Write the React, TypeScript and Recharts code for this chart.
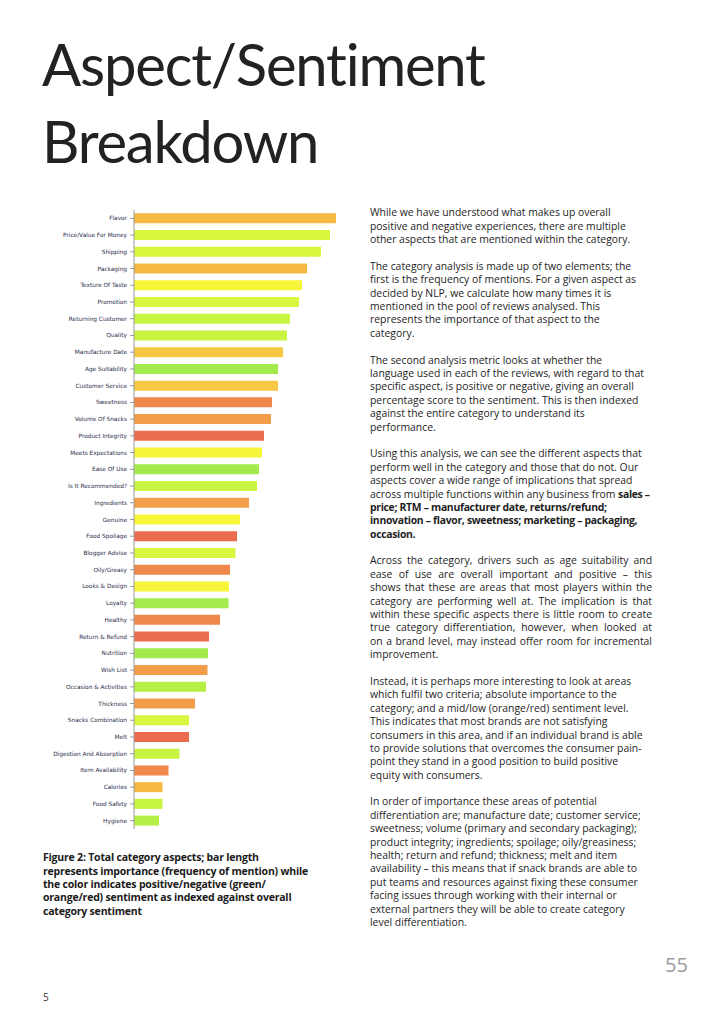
import React from "react";
import { BarChart, Bar, XAxis, YAxis, Cell } from "recharts";

// aspects, ordered by frequency of mention
const aspects = [
  "Flavor",
  "Price/Value For Money",
  "Shipping",
  "Packaging",
  "Texture Of Taste",
  "Promotion",
  "Returning Customer",
  "Quality",
  "Manufacture Date",
  "Age Suitability",
  "Customer Service",
  "Sweetness",
  "Volume Of Snacks",
  "Product Integrity",
  "Meets Expectations",
  "Ease Of Use",
  "Is It Recommended?",
  "Ingredients",
  "Genuine",
  "Food Spoilage",
  "Blogger Advise",
  "Oily/Greasy",
  "Looks & Design",
  "Loyalty",
  "Healthy",
  "Return & Refund",
  "Nutrition",
  "Wish List",
  "Occasion & Activities",
  "Thickness",
  "Snacks Combination",
  "Melt",
  "Digestion And Absorption",
  "Item Availability",
  "Calories",
  "Food Safety",
  "Hygiene",
];

// importance (relative frequency of mention)
const importance = [
  202, 196, 187, 173, 168, 165, 156, 153, 149, 144, 144, 138, 137, 130, 128,
  125, 123, 115, 106, 103, 101.5, 96, 95, 94.5, 86, 75, 74, 73.5, 72, 61, 55,
  55, 45.5, 34.5, 28.5, 28.5, 25,
];

// sentiment band, indexed against category sentiment
const sentiment = [
  "amber", "yellowGreen", "yellowGreen", "amber", "yellow", "yellowGreen",
  "chartreuse", "chartreuse", "gold", "green", "gold", "darkOrange", "orange",
  "red", "yellow", "green", "chartreuse", "orange", "yellow", "red",
  "yellowGreen", "darkOrange", "yellow", "green", "darkOrange", "red", "green",
  "orange", "lime", "orange", "yellowGreen", "red", "chartreuse", "darkOrange",
  "amber", "chartreuse", "lime",
];

const palette: Record<string, string> = {
  green: "#a3eb4c",
  lime: "#b6ef46",
  chartreuse: "#c8f442",
  yellowGreen: "#daf63e",
  yellow: "#f6f53a",
  gold: "#f6c843",
  amber: "#f5b943",
  orange: "#f29d4a",
  darkOrange: "#f0884b",
  red: "#ec6c50",
};

const data = aspects.map((name, i) => ({
  name,
  value: importance[i],
  tone: sentiment[i],
}));

type Seg = { t: string; b?: boolean };
type Line = Seg[] | string | null;

const bodyLines: Line[] = [
  "While we have understood what makes up overall",
  "positive and negative experiences, there are multiple",
  "other aspects that are mentioned within the category.",
  null,
  "The category analysis is made up of two elements; the",
  "first is the frequency of mentions. For a given aspect as",
  "decided by NLP, we calculate how many times it is",
  "mentioned in the pool of reviews analysed. This",
  "represents the importance of that aspect to the",
  "category.",
  null,
  "The second analysis metric looks at whether the",
  "language used in each of the reviews, with regard to that",
  "specific aspect, is positive or negative, giving an overall",
  "percentage score to the sentiment. This is then indexed",
  "against the entire category to understand its",
  "performance.",
  null,
  "Using this analysis, we can see the different aspects that",
  "perform well in the category and those that do not. Our",
  "aspects cover a wide range of implications that spread",
  [
    { t: "across multiple functions within any business from " },
    { t: "sales –", b: true },
  ],
  [{ t: "price; RTM – manufacturer date, returns/refund;", b: true }],
  [{ t: "innovation – flavor, sweetness; marketing – packaging,", b: true }],
  [{ t: "occasion.", b: true }],
  null,
];

const justifiedLines = [
  "Across the category, drivers such as age suitability and",
  "ease of use are overall important and positive – this",
  "shows that these are areas that most players within the",
  "category are performing well at. The implication is that",
  "within these specific aspects there is little room to create",
  "true category differentiation, however, when looked at",
  "on a brand level, may instead offer room for incremental",
];

const tailLines: Line[] = [
  "improvement.",
  null,
  "Instead, it is perhaps more interesting to look at areas",
  "which fulfil two criteria; absolute importance to the",
  "category; and a mid/low (orange/red) sentiment level.",
  "This indicates that most brands are not satisfying",
  "consumers in this area, and if an individual brand is able",
  "to provide solutions that overcomes the consumer pain-",
  "point they stand in a good position to build positive",
  "equity with consumers.",
  null,
  "In order of importance these areas of potential",
  "differentiation are; manufacture date; customer service;",
  "sweetness; volume (primary and secondary packaging);",
  "product integrity; ingredients; spoilage; oily/greasiness;",
  "health; return and refund; thickness; melt and item",
  "availability – this means that if snack brands are able to",
  "put teams and resources against fixing these consumer",
  "facing issues through working with their internal or",
  "external partners they will be able to create category",
  "level differentiation.",
];

const captionLines = [
  "Figure 2: Total category aspects; bar length",
  "represents importance (frequency of mention) while",
  "the color indicates positive/negative (green/",
  "orange/red) sentiment as indexed against overall",
  "category sentiment",
];

const LH = 13.4;
const bodyFont = "'Open Sans', 'Noto Sans', sans-serif";

function renderLine(line: Line, key: number) {
  if (line === null) return <div key={key} style={{ height: LH }} />;
  if (typeof line === "string")
    return (
      <div key={key} style={{ height: LH, whiteSpace: "nowrap" }}>
        {line}
      </div>
    );
  return (
    <div key={key} style={{ height: LH, whiteSpace: "nowrap" }}>
      {line.map((s, j) => (
        <span
          key={j}
          style={{
            fontWeight: s.b ? 700 : 400,
            letterSpacing: s.b ? -0.3 : 0,
          }}
        >
          {s.t}
        </span>
      ))}
    </div>
  );
}

// plain tick label so long names stay on one line
function AspectTick(props: any) {
  const { x, y, payload } = props;
  return (
    <text
      x={x}
      y={y}
      dy={2}
      textAnchor="end"
      fontSize={5.8}
      fill="#2a2a4a"
      fontFamily="'DejaVu Sans', sans-serif"
    >
      {payload.value}
    </text>
  );
}

export default function App() {
  return (
    <div
      style={{
        position: "relative",
        width: 723,
        height: 1024,
        margin: -8,
        background: "#fff",
        overflow: "hidden",
        fontFamily: bodyFont,
        color: "#1e1e1e",
      }}
    >
      {/* Title */}
      <div
        style={{
          position: "absolute",
          left: 42,
          top: 25,
          fontFamily: "Lato, sans-serif",
          fontSize: 58,
          lineHeight: "77px",
          color: "#222",
          letterSpacing: -1.2,
        }}
      >
        Aspect/Sentiment
        <br />
        Breakdown
      </div>

      {/* Chart */}
      <div style={{ position: "absolute", left: 0, top: 200 }}>
        <BarChart
          width={350}
          height={640}
          data={data}
          layout="vertical"
          margin={{ top: 10, right: 6, bottom: 11, left: 0 }}
          barCategoryGap="20%"
        >
          <XAxis type="number" domain={[0, 210]} hide />
          <YAxis
            type="category"
            dataKey="name"
            width={134}
            interval={0}
            tickSize={4}
            tickMargin={3}
            axisLine={{ stroke: "#9a9a9a" }}
            tickLine={{ stroke: "#9a9a9a" }}
            tick={<AspectTick />}
          />
          <Bar dataKey="value" isAnimationActive={false}>
            {data.map((d, i) => (
              <Cell key={i} fill={palette[d.tone]} />
            ))}
          </Bar>
        </BarChart>
      </div>

      {/* Caption */}
      <div
        style={{
          position: "absolute",
          left: 43,
          top: 858 - LH / 2,
          fontSize: 10.5,
          fontWeight: 700,
          letterSpacing: -0.2,
          lineHeight: `${LH}px`,
          color: "#1a1a1a",
        }}
      >
        {captionLines.map((l, i) => (
          <div key={i} style={{ whiteSpace: "nowrap", height: LH }}>
            {l}
          </div>
        ))}
      </div>

      {/* Body text */}
      <div
        style={{
          position: "absolute",
          left: 370,
          top: 213 - LH / 2,
          width: 282,
          fontSize: 10.4,
          lineHeight: `${LH}px`,
        }}
      >
        {bodyLines.map((l, i) => renderLine(l, i))}
        {justifiedLines.map((l, i) => (
          <div
            key={`j${i}`}
            style={{
              height: LH,
              textAlign: "justify",
              textAlignLast: "justify",
              whiteSpace: "normal",
            }}
          >
            {l}
          </div>
        ))}
        {tailLines.map((l, i) => renderLine(l, 100 + i))}
      </div>

      {/* Page numbers */}
      <div
        style={{
          position: "absolute",
          left: 665,
          top: 951,
          fontSize: 20,
          color: "#9a9a9a",
        }}
      >
        55
      </div>
      <div
        style={{
          position: "absolute",
          left: 43,
          top: 990,
          fontSize: 10,
          color: "#333",
        }}
      >
        5
      </div>
    </div>
  );
}
